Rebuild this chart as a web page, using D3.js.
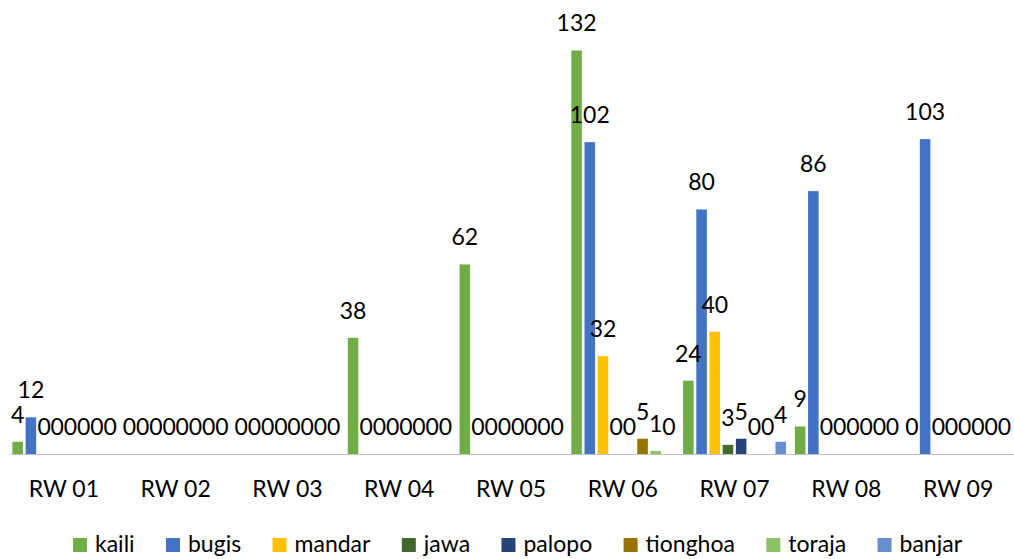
<!DOCTYPE html>
<html>
<head>
<meta charset="utf-8">
<script src="https://cdn.jsdelivr.net/npm/d3@7/dist/d3.min.js"></script>
<style>
  html, body { margin: 0; padding: 0; background: #fff; }
  svg { display: block; font-family: Lato, "Open Sans", sans-serif; }
</style>
</head>
<body>
<svg id="chart" width="1014" height="559"></svg>
<script>
// Residents by ethnic group in each RW
const categories = ["RW 01", "RW 02", "RW 03", "RW 04", "RW 05", "RW 06", "RW 07", "RW 08", "RW 09"];
const seriesNames = ["kaili", "bugis", "mandar", "jawa", "palopo", "tionghoa", "toraja", "banjar"];
const seriesColors = ["#70AD47", "#4472C4", "#FFC000", "#43682B", "#264478", "#997300", "#8CC168", "#698ED0"];

const kaili    = [4, 0, 0, 38, 62, 132, 24, 9, 0];
const bugis    = [12, 0, 0, 0, 0, 102, 80, 86, 103];
const mandar   = [0, 0, 0, 0, 0, 32, 40, 0, 0];
const jawa     = [0, 0, 0, 0, 0, 0, 3, 0, 0];
const palopo   = [0, 0, 0, 0, 0, 0, 5, 0, 0];
const tionghoa = [0, 0, 0, 0, 0, 5, 0, 0, 0];
const toraja   = [0, 0, 0, 0, 0, 1, 0, 0, 0];
const banjar   = [0, 0, 0, 0, 0, 0, 4, 0, 0];

const seriesValues = [kaili, bugis, mandar, jawa, palopo, tionghoa, toraja, banjar];

const svg = d3.select("#chart");
const plot = { left: 8, right: 1014, top: 26, bottom: 454 };
const fontSize = 23;

const x0 = d3.scaleBand().domain(categories).range([plot.left, plot.right]).paddingInner(0).paddingOuter(0);
const x1 = d3.scaleBand().domain(seriesNames).range([0, x0.bandwidth()]).paddingInner(0.2).paddingOuter(0.335);
const y = d3.scaleLinear().domain([0, 140]).range([plot.bottom, plot.top]);

// flatten into one record per bar
const records = [];
categories.forEach((c, ci) => {
  seriesNames.forEach((s, si) => {
    records.push({ cat: c, series: s, color: seriesColors[si], value: seriesValues[si][ci] });
  });
});

svg.append("g").selectAll("rect.bar")
  .data(records.filter(d => d.value > 0))
  .join("rect")
  .attr("class", "bar")
  .attr("x", d => x0(d.cat) + x1(d.series))
  .attr("y", d => y(d.value))
  .attr("width", x1.bandwidth())
  .attr("height", d => y(0) - y(d.value))
  .attr("fill", d => d.color);

// category axis along the baseline
const xAxis = d3.axisBottom(x0).tickSize(0).tickPadding(0);
const axisG = svg.append("g").attr("transform", `translate(0,${plot.bottom})`).call(xAxis);
axisG.select(".domain").attr("stroke", "#BFBFBF").attr("stroke-width", 1).attr("d", `M${plot.left + 2},0.5H${plot.right}`);
axisG.selectAll(".tick text")
  .attr("font-family", "Lato, 'Open Sans', sans-serif")
  .attr("font-size", fontSize)
  .attr("fill", "#000")
  .attr("dy", null)
  .attr("y", 43);

// value labels above every bar, zeros included
svg.append("g").selectAll("text.val")
  .data(records)
  .join("text")
  .attr("class", "val")
  .attr("x", d => x0(d.cat) + x1(d.series) + x1.bandwidth() / 2)
  .attr("y", d => y(d.value) - 19)
  .attr("text-anchor", "middle")
  .attr("font-size", fontSize)
  .attr("fill", "#000")
  .text(d => d.value);

// legend spread between fixed left and right edges
const legend = svg.append("g").attr("transform", "translate(73,552)");
const sq = 14, textGap = 8;
const legendStart = 0, legendEnd = 889;
const itemGroups = seriesNames.map((name, i) => {
  const g = legend.append("g");
  g.append("rect").attr("x", 0).attr("y", -14).attr("width", sq).attr("height", sq).attr("fill", seriesColors[i]);
  const t = g.append("text").attr("x", sq + textGap).attr("y", 0).attr("font-size", fontSize).attr("fill", "#000").text(name);
  return { g, w: sq + textGap + t.node().getComputedTextLength() };
});
const sumW = d3.sum(itemGroups, d => d.w);
const itemGap = (legendEnd - legendStart - sumW) / (itemGroups.length - 1);
let cursor = legendStart;
itemGroups.forEach(it => {
  it.g.attr("transform", `translate(${cursor},0)`);
  cursor += it.w + itemGap;
});
</script>
</body>
</html>
